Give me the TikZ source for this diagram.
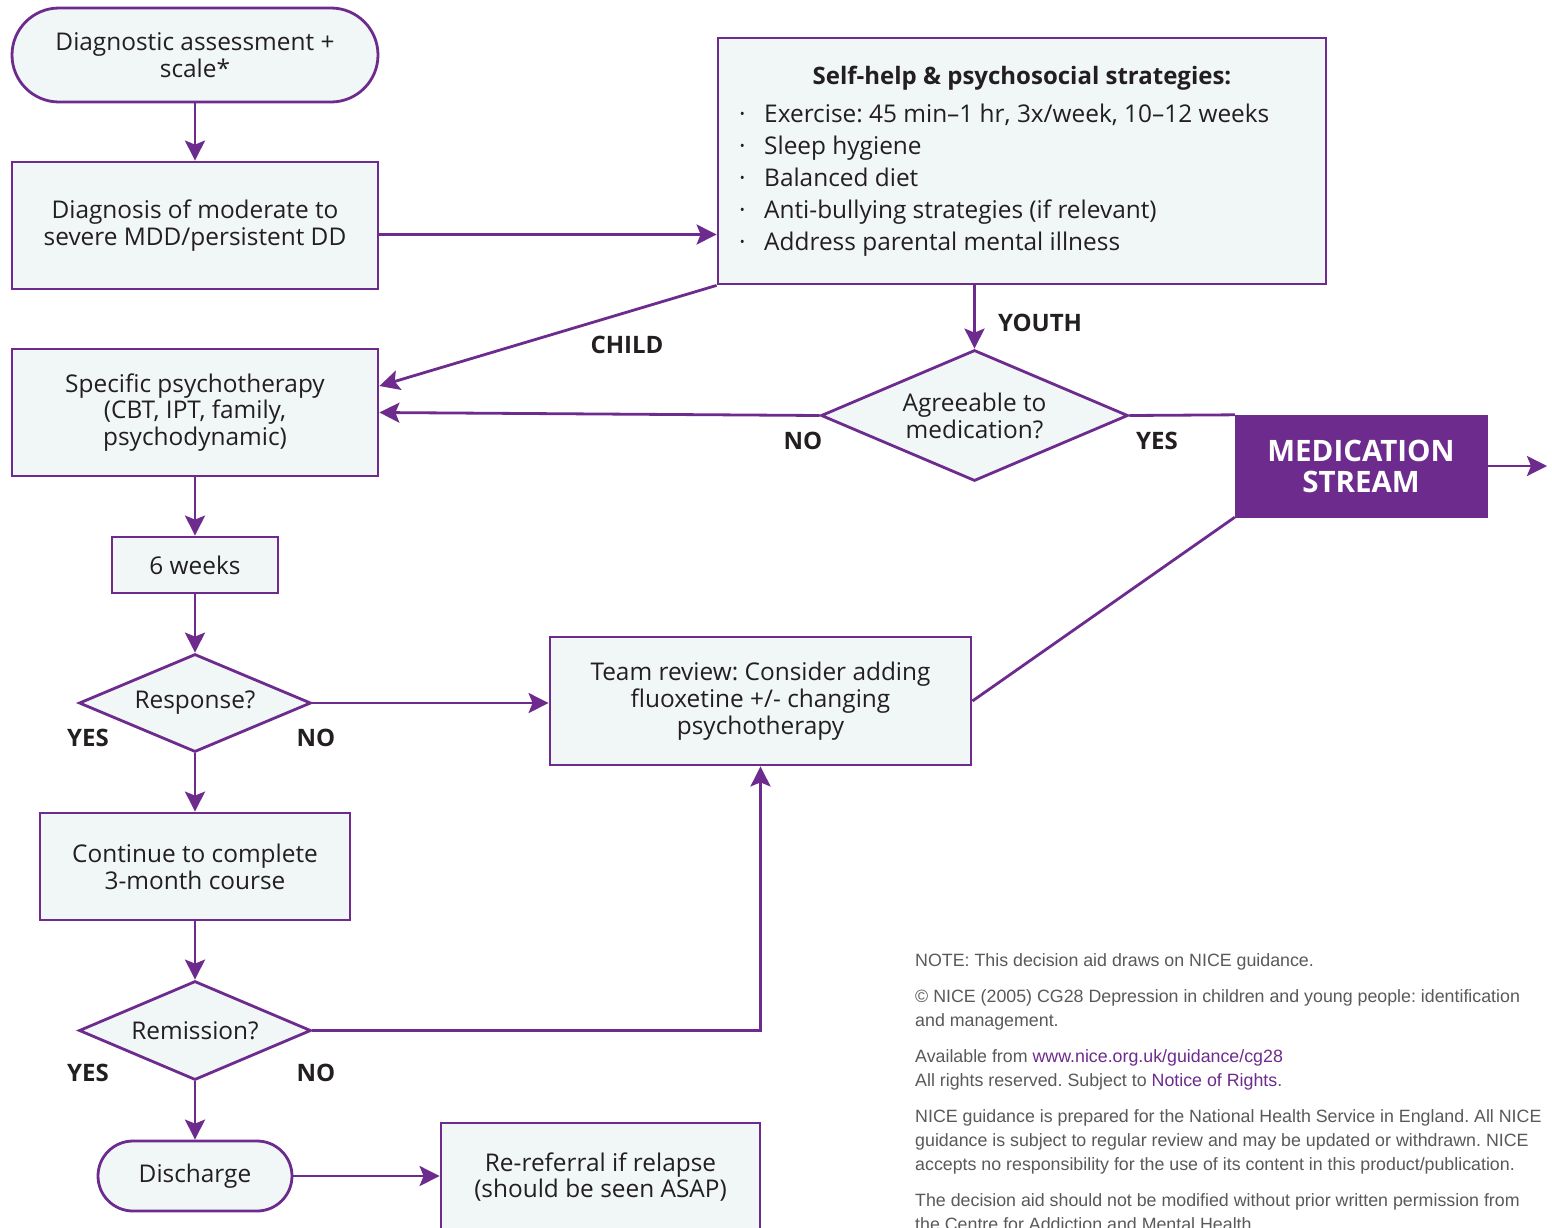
\documentclass[tikz,border=0pt]{standalone}
\usepackage{fontspec}
\setmainfont{Open Sans}
\newfontfamily\footfont{Liberation Sans}
\usetikzlibrary{shapes.geometric,arrows.meta}
\definecolor{pur}{HTML}{6E2B8E}
\definecolor{boxfill}{HTML}{F1F6F7}
\definecolor{txt}{HTML}{231F20}
\definecolor{foot}{HTML}{58595B}
\newcommand\mainsz{\fontsize{24.4}{26.8}\selectfont}
\frenchspacing
\begin{document}
\begin{tikzpicture}[x=1pt,y=-1pt,
  box/.style={draw=pur, line width=2.8pt, fill=boxfill, text=txt, align=center, font=\mainsz, inner sep=0pt},
  stadium/.style={box},
  dia/.style={box, diamond, aspect=2.35},
  arr/.style={draw=pur, line width=2.8pt, -{Stealth[length=20pt,width=20pt,inset=4pt]}},
  ln/.style={draw=pur, line width=2.8pt},
  lab/.style={font=\fontsize{24}{26}\selectfont\bfseries, text=txt, inner sep=0pt}]
\useasboundingbox[fill=white] (0,0) rectangle (1552,1227);

% nodes
\node[stadium, minimum width=366pt, minimum height=94pt, rounded corners=47pt] (start) at (195,55) {Diagnostic assessment +\\scale*};
\node[box, minimum width=366pt, minimum height=127pt] (diag) at (195,225.5) {Diagnosis of moderate to\\severe MDD/persistent DD};
\node[box, minimum width=608pt, minimum height=246pt] (self) at (1022,161) {};
\node[lab] (selft) at (1022,78) {Self-help \& psychosocial strategies:};
\node[anchor=north west, align=left, inner sep=0pt, text=txt, font=\fontsize{24.4}{32}\selectfont] (selfl) at (739,104)
  {\makebox[25pt][l]{·}Exercise: 45 min–1 hr, 3x/week, 10–12 weeks\\
   \makebox[25pt][l]{·}Sleep hygiene\\
   \makebox[25pt][l]{·}Balanced diet\\
   \makebox[25pt][l]{·}Anti-bullying strategies (if relevant)\\
   \makebox[25pt][l]{·}Address parental mental illness};
\node[box, minimum width=366pt, minimum height=127pt] (psycho) at (195,412.5) {Specific psychotherapy\\(CBT, IPT, family,\\psychodynamic)};
\node[box, minimum width=166pt, minimum height=56pt] (six) at (195,565) {6 weeks};
\node[dia, minimum width=232pt, minimum height=98pt] (resp) at (195,703) {Response?};
\node[box, minimum width=310pt, minimum height=107pt] (cont) at (195,866.5) {Continue to complete\\3-month course};
\node[dia, minimum width=232pt, minimum height=99pt] (remi) at (195,1030.5) {Remission?};
\node[stadium, minimum width=194pt, minimum height=70pt, rounded corners=35pt] (disc) at (195,1176) {Discharge};
\node[box, minimum width=319pt, minimum height=108pt] (reref) at (600.5,1177) {Re-referral if relapse\\(should be seen ASAP)};
\node[box, minimum width=421pt, minimum height=128pt] (team) at (760.5,701) {Team review: Consider adding\\fluoxetine +/- changing\\psychotherapy};
\node[dia, minimum width=307pt, minimum height=131pt] (agree) at (974.5,415.5) {Agreeable to\\medication?};
\node[fill=pur, draw=pur, minimum width=252pt, minimum height=102pt, text=white, align=center, inner sep=0pt,
      font=\fontsize{29.5}{31}\selectfont\bfseries] (med) at (1361,466) {MEDICATION\\STREAM};
\coordinate (medout) at (1547,466);

% labels
\node[lab] (lchild) at (627,345) {CHILD};
\node[lab] (lyouth) at (1040,323) {YOUTH};
\node[lab] (lno1) at (803,441) {NO};
\node[lab] (lyes1) at (1157,441) {YES};
\node[lab] (lyes2) at (88,738) {YES};
\node[lab] (lno2) at (316,738) {NO};
\node[lab] (lyes3) at (88,1073) {YES};
\node[lab] (lno3) at (316,1073) {NO};

% connectors
\draw[arr] (start.south) -- (diag.north);
\draw[arr] ([yshift=-9pt]diag.east) -- ([yshift=-9pt]diag.east -| self.west);
\draw[arr] (self.south west) -- ([yshift=26.5pt]psycho.east);
\draw[arr] (agree.north |- self.south) -- (agree.north);
\draw[arr] (agree.west) -- (psycho.east);
\draw[ln] (agree.east) -- (med.north west);
\draw[ln] (med.south west) -- (team.east);
\draw[arr] (med.east) -- (medout);
\draw[arr] (psycho.south) -- (six.north);
\draw[arr] (six.south) -- (resp.north);
\draw[arr] (resp.east) -- (resp.east -| team.west);
\draw[arr] (resp.south) -- (cont.north);
\draw[arr] (cont.south) -- (remi.north);
\draw[arr] (remi.east) -| (team.south);
\draw[arr] (remi.south) -- (disc.north);
\draw[arr] (disc.east) -- (reref.west |- disc.east);

% footer
\node[anchor=north west, align=left, inner sep=0pt, text=foot, font=\footfont\fontsize{17.8}{24}\selectfont] (note) at (915,953)
 {NOTE: This decision aid draws on NICE guidance.\\[12pt]
  \textcopyright{} NICE (2005) CG28 Depression in children and young people: identification\\
  and management.\\[12pt]
  Available from \textcolor{pur}{www.nice.org.uk/guidance/cg28}\\
  All rights reserved. Subject to \textcolor{pur}{Notice of Rights}.\\[12pt]
  NICE guidance is prepared for the National Health Service in England. All NICE\\
  guidance is subject to regular review and may be updated or withdrawn. NICE\\
  accepts no responsibility for the use of its content in this product/publication.\\[12pt]
  The decision aid should not be modified without prior written permission from\\
  the Centre for Addiction and Mental Health.};
\end{tikzpicture}
\end{document}
